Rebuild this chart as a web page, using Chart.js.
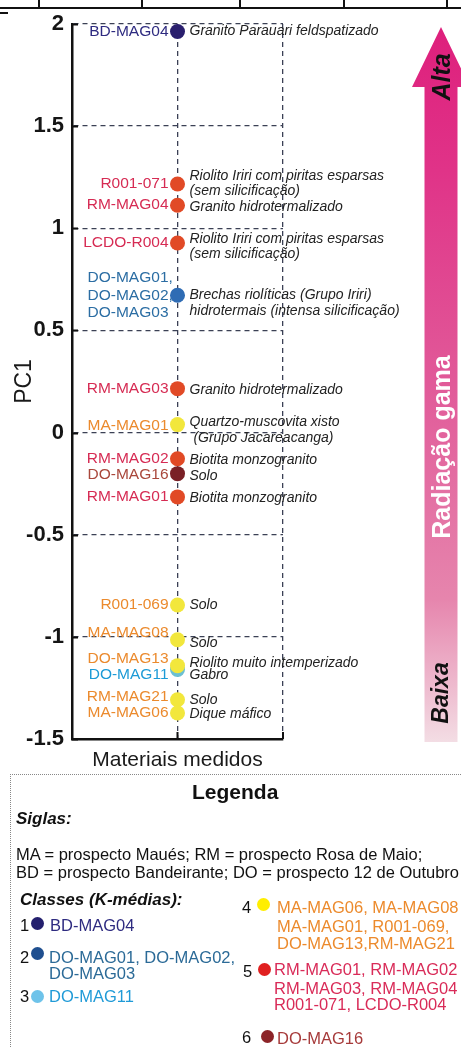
<!DOCTYPE html>
<html>
<head>
<meta charset="utf-8">
<script src="https://cdn.jsdelivr.net/npm/chart.js@4.4.1/dist/chart.umd.min.js"></script>
<style>
  html, body { margin: 0; padding: 0; background: #fff; }
  body { width: 461px; height: 1047px; overflow: hidden; position: relative; font-family: "Liberation Sans", Arial, sans-serif; }
  #chart { position: absolute; left: 0; top: 0; }
  .t { position: absolute; white-space: nowrap; line-height: 1; }
  .dot { position: absolute; width: 13px; height: 13px; border-radius: 50%; }
  .vl { position: absolute; top: 0; width: 1.5px; height: 8px; background: #111; }
  #legendBox { position: absolute; left: 10px; top: 774px; width: 480px; height: 300px; border-top: 1px dotted #888; border-left: 1px dotted #888; }
</style>
</head>
<body>
<!-- cropped table row above the figure -->
<div style="position:absolute;left:0;top:7px;width:461px;height:1.5px;background:#111"></div>
<div class="vl" style="left:38px"></div>
<div class="vl" style="left:141px"></div>
<div class="vl" style="left:239px"></div>
<div class="vl" style="left:343px"></div>
<div class="vl" style="left:446px"></div>
<div style="position:absolute;left:0;top:12px;width:8px;height:1.5px;background:#111"></div>

<canvas id="chart" width="461" height="775"></canvas>

<div id="legendBox"></div>
<div class="t" style="left:192px;top:781px;font-size:21px;font-weight:bold;color:#111">Legenda</div>
<div class="t" style="left:16px;top:810px;font-size:17px;font-weight:bold;font-style:italic;color:#111">Siglas:</div>
<div class="t" style="left:16px;top:846px;font-size:16.5px;color:#111">MA = prospecto Maués; RM = prospecto Rosa de Maio;</div>
<div class="t" style="left:16px;top:864px;font-size:16.5px;color:#111">BD = prospecto Bandeirante; DO = prospecto 12 de Outubro</div>
<div class="t" style="left:20px;top:891px;font-size:17px;font-weight:bold;font-style:italic;color:#111">Classes (K-médias):</div>

<div class="t" style="left:20px;top:917px;font-size:16.5px;color:#111">1</div>
<div class="dot" style="left:31px;top:917px;background:#24206e"></div>
<div class="t" style="left:50px;top:917px;font-size:16.5px;color:#2e2b80">BD-MAG04</div>

<div class="t" style="left:20px;top:949px;font-size:16.5px;color:#111">2</div>
<div class="dot" style="left:31px;top:947px;background:#1f4f8f"></div>
<div class="t" style="left:49px;top:949px;font-size:16.5px;color:#2b6a97">DO-MAG01, DO-MAG02,</div>
<div class="t" style="left:49px;top:965px;font-size:16.5px;color:#2b6a97">DO-MAG03</div>

<div class="t" style="left:20px;top:988px;font-size:16.5px;color:#111">3</div>
<div class="dot" style="left:31px;top:990px;background:#6ec3ea"></div>
<div class="t" style="left:49px;top:988px;font-size:16.5px;color:#1f9ad7">DO-MAG11</div>

<div class="t" style="left:242px;top:899px;font-size:16.5px;color:#111">4</div>
<div class="dot" style="left:257px;top:898px;background:#ffee00"></div>
<div class="t" style="left:277px;top:899px;font-size:16.5px;color:#ec8a2c">MA-MAG06, MA-MAG08</div>
<div class="t" style="left:277px;top:918px;font-size:16.5px;color:#ec8a2c">MA-MAG01, R001-069,</div>
<div class="t" style="left:277px;top:935px;font-size:16.5px;color:#ec8a2c">DO-MAG13,RM-MAG21</div>

<div class="t" style="left:243px;top:963px;font-size:16.5px;color:#111">5</div>
<div class="dot" style="left:258px;top:963px;background:#e02020"></div>
<div class="t" style="left:274px;top:961px;font-size:16.5px;color:#d92b58">RM-MAG01, RM-MAG02</div>
<div class="t" style="left:274px;top:980px;font-size:16.5px;color:#d92b58">RM-MAG03, RM-MAG04</div>
<div class="t" style="left:274px;top:996px;font-size:16.5px;color:#d92b58">R001-071, LCDO-R004</div>

<div class="t" style="left:242px;top:1029px;font-size:16.5px;color:#111">6</div>
<div class="dot" style="left:261px;top:1030px;background:#8c2428"></div>
<div class="t" style="left:277px;top:1030px;font-size:16.5px;color:#a63a3a">DO-MAG16</div>

<script>
// sample names (one entry per plotted point, may span several lines)
const SAMPLE_NAMES = [
  ['BD-MAG04'],
  ['R001-071'],
  ['RM-MAG04'],
  ['LCDO-R004'],
  ['DO-MAG01,', 'DO-MAG02,', 'DO-MAG03'],
  ['RM-MAG03'],
  ['MA-MAG01'],
  ['RM-MAG02'],
  ['DO-MAG16'],
  ['RM-MAG01'],
  ['R001-069'],
  ['MA-MAG08'],
  ['DO-MAG13'],
  ['DO-MAG11'],
  ['RM-MAG21'],
  ['MA-MAG06'],
];

const PC1_VALUES = [1.963, 1.217, 1.113, 0.928, 0.672, 0.215, 0.039, -0.128, -0.201, -0.315,
                    -0.844, -1.014, -1.141, -1.16, -1.308, -1.373];

// K-means class (1..6) of each sample
const SAMPLE_CLASS = [1, 5, 5, 5, 2, 5, 4, 5, 6, 5, 4, 4, 4, 3, 4, 4];

const DESCRIPTIONS = [
  ['Granito Parauari feldspatizado'],
  ['Riolito Iriri com piritas esparsas', '(sem silicificação)'],
  ['Granito hidrotermalizado'],
  ['Riolito Iriri com piritas esparsas', '(sem silicificação)'],
  ['Brechas riolíticas (Grupo Iriri)', 'hidrotermais (intensa silicificação)'],
  ['Granito hidrotermalizado'],
  ['Quartzo-muscovita xisto', ' (Grupo Jacareacanga)'],
  ['Biotita monzogranito'],
  ['Solo'],
  ['Biotita monzogranito'],
  ['Solo'],
  ['Solo'],
  ['Riolito muito intemperizado'],
  ['Gabro'],
  ['Solo'],
  ['Dique máfico'],
];

const CLASSES = [1, 2, 3, 4, 5, 6];
const Y_TICKS = { min: -1.5, max: 2, step: 0.5 };

// styling
const POINT_COLORS = ['#2a1f6e', '#2f6cb4', '#6cc0d2', '#f2e73c', '#e14a26', '#7a2026'];
const NAME_COLORS  = ['#2e2b80', '#2b6da3', '#1c9ad6', '#eb8a2d', '#d62b53', '#a9473b'];
// [name dy, description dy] nudges in px, to keep close labels apart
const LABEL_NUDGE = [
  [0, 0], [0, -8], [0, 1.5], [0, -4], [0, 0], [0, 1.5], [1, -2], [0, 1],
  [1, 2], [0, 1], [0, 0], [-7, 3], [-7, -3], [5, 6], [-3, 0], [0, 1],
];
const NAME_FONT = '15.5px "Liberation Sans", Arial, sans-serif';
const DESC_FONT = 'italic 14px "Liberation Sans", Arial, sans-serif';

const sampleLabels = {
  id: 'sampleLabels',
  beforeDatasetsDraw(chart) {
    const { ctx, scales } = chart;
    const xc = scales.x.getPixelForValue(1);
    ctx.save();
    ctx.textBaseline = 'middle';
    ctx.textAlign = 'left';
    SAMPLE_NAMES.forEach((lines, i) => {
      const yc = scales.y.getPixelForValue(PC1_VALUES[i]);
      const [ndy, ddy] = LABEL_NUDGE[i];
      ctx.font = NAME_FONT;
      ctx.fillStyle = NAME_COLORS[SAMPLE_CLASS[i] - 1];
      const n = lines.length;
      lines.forEach((ln, k) => {
        // right-align on the name itself, a trailing comma may hang over
        const w = ctx.measureText(ln.replace(/,$/, '')).width;
        ctx.fillText(ln, xc - 9 - w, yc + ndy + (k - (n - 1) / 2) * 17.5);
      });
      ctx.font = DESC_FONT;
      ctx.fillStyle = '#222';
      DESCRIPTIONS[i].forEach((ln, k) => {
        ctx.fillText(ln, xc + 12, yc + ddy + k * 15.5);
      });
    });
    ctx.restore();
  },
  afterDatasetsDraw(chart) {
    // short inner tick marks on both axes
    const { ctx, chartArea, scales } = chart;
    ctx.save();
    ctx.strokeStyle = '#111';
    ctx.lineWidth = 2;
    ctx.beginPath();
    scales.y.ticks.forEach(t => {
      const y = Math.round(scales.y.getPixelForValue(t.value)) + 0.5;
      ctx.moveTo(chartArea.left, y);
      ctx.lineTo(chartArea.left + 6, y);
    });
    scales.x.ticks.forEach(t => {
      if (t.value === 0) return;
      const x = scales.x.getPixelForValue(t.value);
      ctx.moveTo(x, chartArea.bottom);
      ctx.lineTo(x, chartArea.bottom - 7);
    });
    ctx.stroke();
    ctx.restore();
  },
};

const gammaArrow = {
  id: 'gammaArrow',
  afterDraw(chart) {
    const { ctx, chartArea } = chart;
    const top = chartArea.top + 3, bottom = chartArea.bottom + 3;
    const cx = 441, half = 16.5, headHalf = 29, headH = 60;
    const g = ctx.createLinearGradient(0, top, 0, bottom);
    g.addColorStop(0, '#de1f7c');
    g.addColorStop(0.2, '#e03388');
    g.addColorStop(0.5, '#e15a99');
    g.addColorStop(0.8, '#e685ad');
    g.addColorStop(1, '#f3dde4');
    ctx.save();
    ctx.beginPath();
    ctx.moveTo(cx, top);
    ctx.lineTo(cx + headHalf, top + headH);
    ctx.lineTo(cx + half, top + headH);
    ctx.lineTo(cx + half, bottom);
    ctx.lineTo(cx - half, bottom);
    ctx.lineTo(cx - half, top + headH);
    ctx.lineTo(cx - headHalf, top + headH);
    ctx.closePath();
    ctx.fillStyle = g;
    ctx.fill();

    ctx.translate(cx, 0);
    ctx.rotate(-Math.PI / 2);
    ctx.textAlign = 'center';
    ctx.textBaseline = 'middle';
    ctx.fillStyle = '#111';
    ctx.font = 'italic bold 25px "Liberation Sans", Arial, sans-serif';
    ctx.fillText('Alta', -77, 2);
    ctx.font = 'italic bold 23px "Liberation Sans", Arial, sans-serif';
    ctx.fillText('Baixa', -693, 1);
    ctx.fillStyle = '#fff';
    ctx.font = 'bold 25px "Liberation Sans", Arial, sans-serif';
    ctx.fillText('Radiação gama', -447, 2);
    ctx.restore();
  },
};

const datasets = CLASSES.map(c => ({
  label: 'Classe ' + c,
  data: PC1_VALUES.map((v, i) => ({ x: 1, y: v })).filter((p, i) => SAMPLE_CLASS[i] === c),
  backgroundColor: POINT_COLORS[c - 1],
  borderWidth: 0,
  pointRadius: 7.5,
  pointHoverRadius: 7.5,
  order: c === 4 ? 0 : 1,
}));

const gridStyle = { color: '#3b4055', lineWidth: 1.3 };

new Chart(document.getElementById('chart'), {
  type: 'scatter',
  data: { datasets },
  options: {
    responsive: false,
    animation: false,
    devicePixelRatio: 1,
    layout: { padding: { top: 24, right: 178, left: 0, bottom: 0 } },
    plugins: { legend: { display: false }, tooltip: { enabled: false } },
    scales: {
      x: {
        type: 'linear',
        min: 0,
        max: 2,
        ticks: { display: false, stepSize: 1 },
        grid: { ...gridStyle, drawTicks: false },
        border: { display: true, color: '#111', width: 2.5, dash: [5, 4] },
        title: {
          display: true,
          text: 'Materiais medidos',
          color: '#1a1a1a',
          font: { family: '"Liberation Sans", Arial, sans-serif', size: 21 },
          padding: { top: 0, bottom: 2 },
        },
        afterFit(scale) { scale.height = 36; },
      },
      y: {
        min: Y_TICKS.min,
        max: Y_TICKS.max,
        ticks: {
          stepSize: Y_TICKS.step,
          padding: 8,
          color: '#151515',
          font: { family: '"Liberation Sans", Arial, sans-serif', size: 22, weight: 'bold' },
          callback: v => String(+v.toFixed(1)),
        },
        grid: { ...gridStyle, drawTicks: false },
        border: { display: true, color: '#111', width: 2.5, dash: [5, 4] },
        title: {
          display: true,
          text: 'PC1',
          color: '#1a1a1a',
          font: { family: '"Liberation Sans", Arial, sans-serif', size: 23 },
          padding: { top: 11, bottom: 0 },
        },
        afterFit(scale) { scale.width = 72; },
      },
    },
  },
  plugins: [sampleLabels, gammaArrow],
});
</script>
</body>
</html>
